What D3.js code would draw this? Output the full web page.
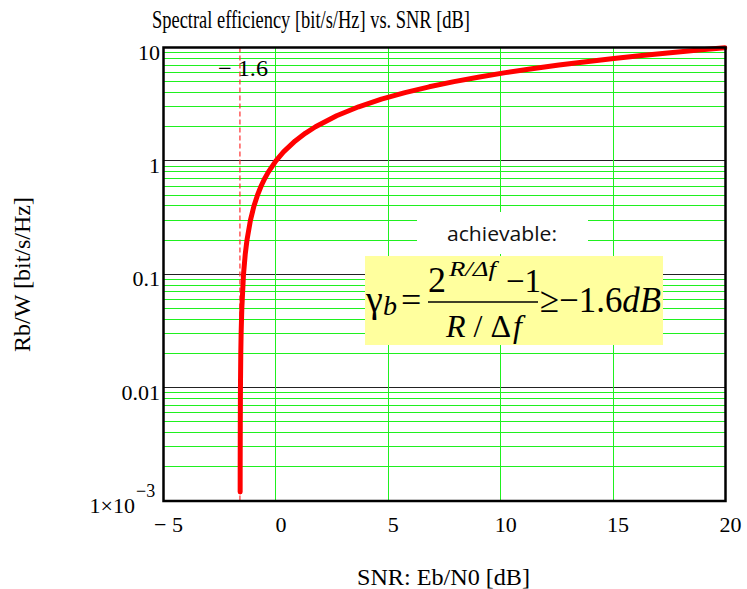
<!DOCTYPE html>
<html>
<head>
<meta charset="utf-8">
<script src="https://cdn.jsdelivr.net/npm/d3@7.9.0/dist/d3.min.js"></script>
<style>
  html, body { margin: 0; padding: 0; background: #fff; }
  svg { display: block; }
</style>
</head>
<body>
<svg id="chart" width="747" height="589"></svg>
<script>
// ---------- data ----------
const snrDb = [-1.590, -1.589, -1.584, -1.577, -1.562, -1.547, -1.516, -1.441, -1.364, -1.287,
  -1.132, -0.976, -0.817, -0.657, -0.496, -0.332, 0, 0.339, 0.860, 1.305, 1.761, 2.701,
  3.680, 4.694, 5.740, 6.818, 7.924, 9.056, 10.21, 11.39, 12.59, 13.80, 15.03, 16.28,
  17.54, 18.81, 19.97];
const rate = [0.0012, 0.002, 0.005, 0.01, 0.02, 0.03, 0.05, 0.1, 0.15, 0.2,
  0.3, 0.4, 0.5, 0.6, 0.7, 0.8, 1, 1.2, 1.5, 1.75, 2, 2.5,
  3, 3.5, 4, 4.5, 5, 5.5, 6, 6.5, 7, 7.5, 8, 8.5,
  9, 9.5, 9.95];

const xTicks = [-5, 0, 5, 10, 15, 20];
const xTickLabels = ['\u2212 5', '0', '5', '10', '15', '20'];
const yTicks = [0.001, 0.01, 0.1, 1, 10];
const yTickLabels = ['1\u00d710', '0.01', '0.1', '1', '10'];
const shannonLimit = -1.6;

// ---------- setup ----------
const svg = d3.select('#chart');
const plot = { left: 163.5, right: 725.5, top: 47.5, bottom: 501 };
const SERIF = 'Liberation Serif';

const x = d3.scaleLinear().domain([-5, 20]).range([plot.left, plot.right]);
const y = d3.scaleLog().domain([0.001, 10]).range([plot.bottom, plot.top]);

function serifText(parent, px, py, size, str) {
  return parent.append('text')
    .attr('font-family', SERIF)
    .attr('fill', '#000')
    .attr('x', px).attr('y', py)
    .attr('font-size', size)
    .text(str);
}

// ---------- grid ----------
const grid = svg.append('g').attr('shape-rendering', 'crispEdges');

// minor decade lines (2..9) in green, decade lines in black
y.ticks().forEach(v => {
  const lead = +v.toExponential().split('e')[0];
  if (v <= y.domain()[0] || v >= y.domain()[1]) return;
  grid.append('line')
    .attr('x1', plot.left).attr('x2', plot.right)
    .attr('y1', y(v)).attr('y2', y(v))
    .attr('stroke', Math.abs(lead - 1) < 1e-9 ? '#222' : '#1ff01f')
    .attr('stroke-width', 1);
});

xTicks.slice(1, -1).forEach(v => {
  grid.append('line')
    .attr('x1', x(v)).attr('x2', x(v))
    .attr('y1', plot.top).attr('y2', plot.bottom)
    .attr('stroke', '#1ff01f')
    .attr('stroke-width', 1);
});

// Shannon limit marker
svg.append('line')
  .attr('x1', x(shannonLimit)).attr('x2', x(shannonLimit))
  .attr('y1', plot.top).attr('y2', plot.bottom)
  .attr('stroke', '#ff3030')
  .attr('stroke-width', 1.2)
  .attr('stroke-dasharray', '5,3');

serifText(svg, 218, 76, 23, '\u2212 1.6')
  .attr('textLength', 50).attr('lengthAdjust', 'spacingAndGlyphs');

// ---------- annotation boxes ----------
svg.append('rect')
  .attr('x', 417).attr('y', 212).attr('width', 171).attr('height', 42)
  .attr('fill', '#fff');

svg.append('text')
  .attr('x', 447).attr('y', 241)
  .attr('font-family', 'Open Sans, Lato, sans-serif')
  .attr('font-size', 20)
  .attr('textLength', 110).attr('lengthAdjust', 'spacingAndGlyphs')
  .attr('fill', '#111')
  .text('achievable:');

svg.append('rect')
  .attr('x', 365).attr('y', 256).attr('width', 298).attr('height', 89)
  .attr('fill', '#ffff9e');

const formula = svg.append('g');

serifText(formula, 366, 312, 38, '\u03b3');
serifText(formula, 383, 315, 28, 'b').attr('font-style', 'italic');
serifText(formula, 401, 312, 36, '=');

// numerator
serifText(formula, 428, 292, 36, '2');
serifText(formula, 449, 276, 22, 'R/\u0394f').attr('font-style', 'italic')
  .attr('textLength', 47).attr('lengthAdjust', 'spacingAndGlyphs');
serifText(formula, 506, 292, 33, '\u22121');

formula.append('line')
  .attr('x1', 428).attr('x2', 538)
  .attr('y1', 302).attr('y2', 302)
  .attr('stroke', '#000').attr('stroke-width', 1.5);

// denominator (italic f nudged so it does not run into the delta)
const den = serifText(formula, 446, 337, 32, null);
den.append('tspan').attr('font-style', 'italic').text('R');
den.append('tspan').text(' / \u0394');
den.append('tspan').attr('font-style', 'italic').attr('dx', 2).text('f');

const rhs = serifText(formula, 540, 312, 36, null)
  .attr('textLength', 121).attr('lengthAdjust', 'spacingAndGlyphs');
rhs.append('tspan').text('\u2265\u22121.6');
rhs.append('tspan').attr('font-style', 'italic').text('dB');

// ---------- curve ----------
const pts = snrDb.map((s, i) => [s, rate[i]]);
const line = d3.line().x(d => x(d[0])).y(d => y(d[1]));

svg.append('clipPath').attr('id', 'clip')
  .append('rect')
  .attr('x', plot.left).attr('y', plot.top - 3)
  .attr('width', plot.right - plot.left + 2).attr('height', plot.bottom - plot.top + 3);

svg.append('path')
  .datum(pts)
  .attr('clip-path', 'url(#clip)')
  .attr('d', line)
  .attr('fill', 'none')
  .attr('stroke', '#ff0000')
  .attr('stroke-width', 5)
  .attr('stroke-linecap', 'round')
  .attr('stroke-linejoin', 'round');

// ---------- frame ----------
svg.append('rect')
  .attr('x', plot.left).attr('y', plot.top)
  .attr('width', plot.right - plot.left).attr('height', plot.bottom - plot.top)
  .attr('fill', 'none')
  .attr('stroke', '#000')
  .attr('stroke-width', 2.5);

// ---------- tick labels ----------
xTicks.forEach((v, i) => {
  serifText(svg, x(v) + 5, 532, 22, xTickLabels[i])
    .attr('text-anchor', 'middle');
});

yTicks.forEach((v, i) => {
  if (i === 0) {
    serifText(svg, 135, y(v) + 12, 22, yTickLabels[i]).attr('text-anchor', 'end');
    serifText(svg, 136, y(v) - 4, 18, '\u22123');
    return;
  }
  serifText(svg, 160, y(v) + 12, 22, yTickLabels[i]).attr('text-anchor', 'end');
});

// ---------- titles ----------
serifText(svg, 152, 28, 26, 'Spectral efficiency [bit/s/Hz] vs. SNR [dB]')
  .attr('textLength', 318).attr('lengthAdjust', 'spacingAndGlyphs');

serifText(svg, 357, 585, 23, 'SNR: Eb/N0 [dB]')
  .attr('textLength', 173).attr('lengthAdjust', 'spacingAndGlyphs');

serifText(svg, 0, 0, 23, 'Rb/W [bit/s/Hz]')
  .attr('transform', 'translate(30,352) rotate(-90)')
  .attr('textLength', 155).attr('lengthAdjust', 'spacingAndGlyphs');
</script>
</body>
</html>
